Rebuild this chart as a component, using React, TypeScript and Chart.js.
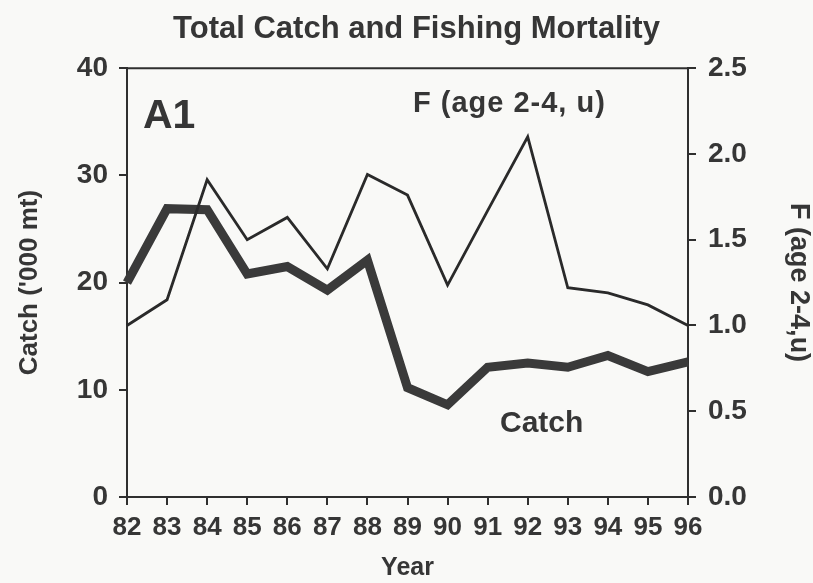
import React, { useEffect, useRef } from "react";
import { Chart, registerables } from "chart.js";

Chart.register(...registerables);

// ---- data ----
const years = ["82", "83", "84", "85", "86", "87", "88", "89", "90", "91", "92", "93", "94", "95", "96"];
const catchValues = [20.0, 26.9, 26.8, 20.8, 21.5, 19.3, 22.1, 10.2, 8.6, 12.1, 12.5, 12.1, 13.2, 11.7, 12.6];
const fValues = [1.0, 1.15, 1.85, 1.5, 1.63, 1.33, 1.88, 1.76, 1.235, 1.67, 2.1, 1.22, 1.19, 1.12, 1.0];
const catchAxisMax = 40;
const catchAxisStep = 10;
const fAxisMax = 2.5;
const fAxisStep = 0.5;

const titleText = "Total Catch and Fishing Mortality";
const leftAxisTitle = "Catch ('000 mt)";
const rightAxisTitle = "F (age 2-4,u)";
const xAxisTitle = "Year";
const panelLabel = "A1";
const fLabel = "F (age 2-4, u)";
const catchLabel = "Catch";

const FONT = "'Liberation Sans', Arial, Helvetica, sans-serif";
const TEXT = "#363636";
const LINE = "#2f2f2f";

export default function App() {
  const canvasRef = useRef<HTMLCanvasElement | null>(null);

  useEffect(() => {
    const canvas = canvasRef.current;
    if (!canvas) return;

    const bgPlugin = {
      id: "bg",
      beforeDraw(chart: any) {
        const { ctx, width, height } = chart;
        ctx.save();
        ctx.fillStyle = "#f9f9f7";
        ctx.fillRect(0, 0, width, height);
        ctx.restore();
      },
    };

    const framePlugin = {
      id: "frameAndLabels",
      afterDraw(chart: any) {
        const { ctx, chartArea } = chart;
        const { left, right, top, bottom } = chartArea;
        ctx.save();
        // top border of the frame
        ctx.strokeStyle = LINE;
        ctx.lineWidth = 2;
        ctx.beginPath();
        ctx.moveTo(left - 1, top);
        ctx.lineTo(right + 1, top);
        ctx.stroke();

        ctx.fillStyle = TEXT;
        ctx.textBaseline = "alphabetic";
        ctx.textAlign = "left";
        // panel label
        ctx.font = `bold 41px ${FONT}`;
        ctx.fillText(panelLabel, left + 16, top + 60);
        // F label
        ctx.font = `bold 29px ${FONT}`;
        (ctx as any).letterSpacing = "1px";
        ctx.fillText(fLabel, left + 286, top + 44);
        (ctx as any).letterSpacing = "0px";
        // Catch label
        ctx.font = `bold 30px ${FONT}`;
        ctx.fillText(catchLabel, left + 373, bottom - 65);
        ctx.restore();
      },
    };

    const axisLine = { display: true, color: LINE, width: 2 };
    const gridOpts = {
      drawOnChartArea: false,
      drawTicks: true,
      tickLength: 8,
      color: LINE,
      lineWidth: 2,
    };

    const chart = new Chart(canvas, {
      type: "line",
      data: {
        labels: years,
        datasets: [
          {
            label: "F (age 2-4, u)",
            data: fValues,
            yAxisID: "y1",
            borderColor: "#2a2a2a",
            borderWidth: 2.8,
            pointRadius: 0,
            tension: 0,
            fill: false,
            order: 0,
          },
          {
            label: "Catch",
            data: catchValues,
            yAxisID: "y",
            borderColor: "#3a3a3a",
            borderWidth: 9,
            pointRadius: 0,
            tension: 0,
            fill: false,
            order: 1,
          },
        ],
      },
      options: {
        animation: false,
        responsive: false,
        maintainAspectRatio: false,
        layout: { padding: { left: 20, right: 0, top: 0, bottom: 0 } },
        plugins: {
          legend: { display: false },
          tooltip: { enabled: false },
          title: {
            display: true,
            text: titleText,
            color: TEXT,
            font: { family: FONT, size: 31, weight: "bold" },
            padding: { top: 11, bottom: 20 },
          },
        },
        scales: {
          x: {
            type: "category",
            offset: false,
            grid: gridOpts,
            border: axisLine,
            ticks: {
              color: TEXT,
              font: { family: FONT, size: 26, weight: "bold" },
              padding: 7,
              maxRotation: 0,
              autoSkip: false,
            },
            title: {
              display: true,
              text: xAxisTitle,
              color: TEXT,
              font: { family: FONT, size: 25, weight: "bold" },
              padding: { top: 0, bottom: 0 },
            },
            afterFit(scale: any) {
              scale.height = 86;
            },
          },
          y: {
            type: "linear",
            position: "left",
            min: 0,
            max: catchAxisMax,
            grid: gridOpts,
            border: axisLine,
            ticks: {
              stepSize: catchAxisStep,
              color: TEXT,
              font: { family: FONT, size: 28, weight: "bold" },
              padding: 11,
            },
            title: {
              display: true,
              text: leftAxisTitle,
              color: TEXT,
              font: { family: FONT, size: 26, weight: "bold" },
              padding: { top: -6, bottom: 0 },
            },
            afterFit(scale: any) {
              scale.width = 107;
            },
          },
          y1: {
            type: "linear",
            position: "right",
            min: 0,
            max: fAxisMax,
            grid: gridOpts,
            border: axisLine,
            ticks: {
              stepSize: fAxisStep,
              color: TEXT,
              font: { family: FONT, size: 28, weight: "bold" },
              padding: 12,
              callback: (v: any) => Number(v).toFixed(1),
            },
            title: {
              display: true,
              text: rightAxisTitle,
              color: TEXT,
              font: { family: FONT, size: 27, weight: "bold" },
              padding: { top: -2, bottom: 0 },
            },
            afterFit(scale: any) {
              scale.width = 125;
            },
          },
        },
      },
      plugins: [bgPlugin, framePlugin],
    } as any);

    return () => {
      chart.destroy();
    };
  }, []);

  return (
    <div style={{ position: "absolute", left: 0, top: 0, width: 813, height: 583 }}>
      <canvas ref={canvasRef} width={813} height={583} style={{ display: "block", width: 813, height: 583 }} />
    </div>
  );
}
